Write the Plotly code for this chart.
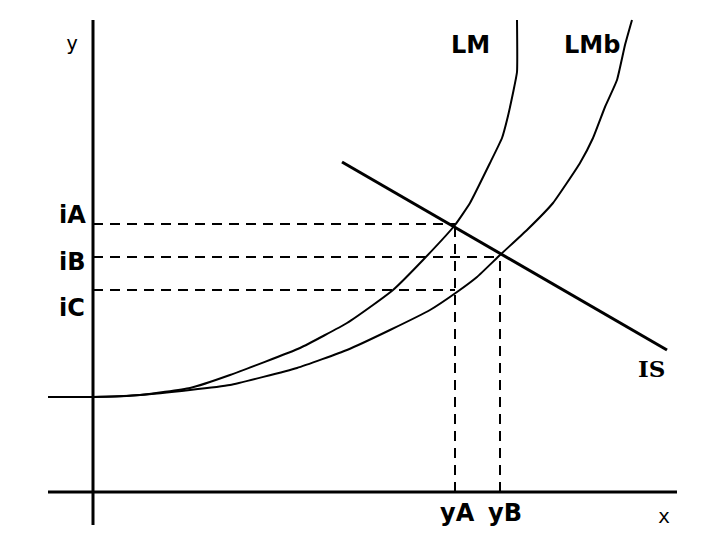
import plotly.graph_objects as go

# IS-LM diagram, values in diagram units (origin where the axes cross)
lm_x = [-45, 0, 47, 97, 137, 207, 254, 280, 300, 330, 362, 377, 397, 409, 414, 420, 424, 424]
lm_y = [95, 95, 97, 104, 117, 144, 169, 187, 202, 232, 267, 289, 329, 354, 372, 399, 420, 472]

lmb_x = [-45, 0, 47, 97, 137, 204, 254, 297, 337, 364, 384, 407, 434, 460, 487, 500, 512, 524, 532, 539]
lmb_y = [95, 95, 97, 102, 107, 124, 142, 162, 182, 200, 215, 237, 262, 289, 329, 354, 385, 412, 447, 472]

is_x = [249, 574]
is_y = [330, 142]

# equilibrium levels
y_a, y_b = 362, 407
i_a, i_b, i_c = 268, 235, 202

fig = go.Figure()

line_style = dict(color="black", width=2)
dash_style = dict(color="black", width=2, dash="10px,7px")

# dashed guides
for lvl, xe in [(i_a, y_a), (i_b, y_b), (i_c, y_a)]:
    fig.add_trace(go.Scatter(x=[0, xe], y=[lvl, lvl], mode="lines", line=dash_style))
for xv, top in [(y_a, i_a), (y_b, i_b)]:
    fig.add_trace(go.Scatter(x=[xv, xv], y=[0, top], mode="lines", line=dash_style))

fig.add_trace(go.Scatter(x=lm_x, y=lm_y, mode="lines", line=dict(line_style, shape="spline", smoothing=0.4)))
fig.add_trace(go.Scatter(x=lmb_x, y=lmb_y, mode="lines", line=dict(line_style, shape="spline", smoothing=0.4)))
fig.add_trace(go.Scatter(x=is_x, y=is_y, mode="lines", line=dict(color="black", width=3)))

# axes
fig.add_shape(type="line", x0=0, x1=0, y0=-33, y1=472, line=dict(color="black", width=3))
fig.add_shape(type="line", x0=-45, x1=584, y0=0, y1=0, line=dict(color="black", width=3))

bold = dict(family="DejaVu Sans", size=24, color="black")
thin = dict(family="DejaVu Sans Mono", size=20, color="black")

labels = [
    ("LM", 377, 447, bold),
    ("LMb", 499, 447, bold),
    ("iA", -21, 277, bold),
    ("iB", -21, 230, bold),
    ("iC", -21, 184, bold),
    ("yA", y_a + 2, -21, bold),
    ("yB", y_b + 5, -21, bold),
    ("IS", 558, 124, dict(family="DejaVu Serif", size=23, color="black")),
    ("y", -21, 449, thin),
    ("x", 571, -24, thin),
]
for txt, x, y, f in labels:
    fig.add_annotation(x=x, y=y, text=f"<b>{txt}</b>" if f is bold or txt == "IS" else txt,
                       showarrow=False, font=f, xanchor="center", yanchor="middle")

fig.update_layout(
    width=720, height=540,
    margin=dict(l=0, r=0, t=0, b=0),
    plot_bgcolor="white", paper_bgcolor="white",
    showlegend=False,
)
# page body adds an 8px offset, so ranges are shifted to keep the origin in place
fig.update_xaxes(range=[-85, 635], visible=False, fixedrange=True)
fig.update_yaxes(range=[-56, 484], visible=False, fixedrange=True)

fig.write_html("out.html")
